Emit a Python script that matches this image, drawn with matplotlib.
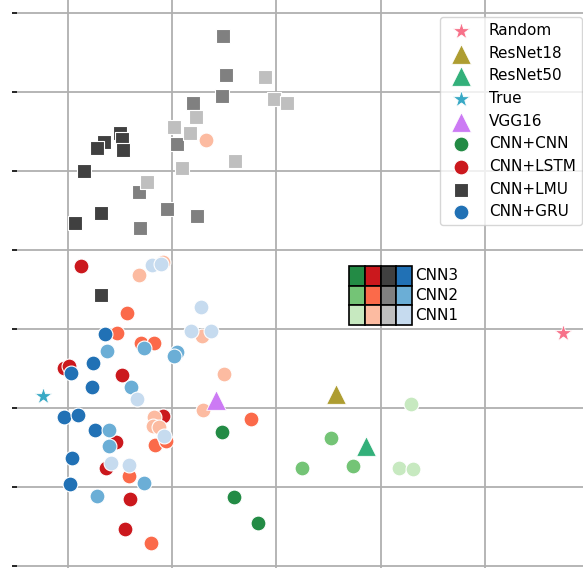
import matplotlib
matplotlib.use("Agg")
import matplotlib.pyplot as plt
import seaborn as sns

# Dados (unidades dos eixos: grade x = 0..4, grade y = 0..7)
lmu3_x = [0.50, 0.52, 0.53, 0.35, 0.28, 0.16, 0.32, 0.07, 0.32]
lmu3_y = [5.48, 5.40, 5.26, 5.37, 5.29, 5.00, 4.47, 4.34, 3.43]
lmu2_x = [1.49, 1.52, 1.48, 1.20, 1.05, 0.68, 0.95, 1.24, 0.69]
lmu2_y = [6.71, 6.21, 5.95, 5.86, 5.34, 4.73, 4.52, 4.43, 4.28]
lmu1_x = [1.89, 1.98, 2.10, 1.23, 1.02, 1.17, 1.60, 1.10, 0.76]
lmu1_y = [6.19, 5.91, 5.86, 5.68, 5.56, 5.48, 5.12, 5.04, 4.86]

lstm3_x = [0.13, -0.04, 0.01, 0.52, 0.91, 0.46, 0.37, 0.60, 0.55]
lstm3_y = [3.80, 2.50, 2.53, 2.41, 1.90, 1.57, 1.24, 0.85, 0.47]
lstm2_x = [0.57, 0.47, 0.70, 0.83, 1.76, 0.84, 0.94, 0.59, 0.80]
lstm2_y = [3.20, 2.95, 2.82, 2.82, 1.86, 1.53, 1.58, 1.14, 0.29]
lstm1_x = [1.33, 0.68, 0.91, 1.29, 1.50, 1.30, 0.83, 0.82, 0.88]
lstm1_y = [5.39, 3.68, 3.85, 2.91, 2.43, 1.97, 1.88, 1.77, 1.76]

gru3_x = [0.36, 0.24, 0.03, 0.23, -0.04, 0.10, 0.26, 0.04, 0.02]
gru3_y = [2.93, 2.57, 2.44, 2.26, 1.88, 1.91, 1.72, 1.36, 1.03]
gru2_x = [0.73, 0.38, 1.05, 1.02, 0.61, 0.40, 0.40, 0.73, 0.28]
gru2_y = [2.76, 2.72, 2.71, 2.66, 2.26, 1.72, 1.52, 1.05, 0.88]
gru1_x = [0.81, 0.89, 1.28, 1.18, 1.37, 0.66, 0.92, 0.42, 0.59]
gru1_y = [3.81, 3.82, 3.28, 2.97, 2.97, 2.11, 1.64, 1.30, 1.27]

cnn3_x = [1.48, 1.59, 1.82]
cnn3_y = [1.69, 0.87, 0.54]
cnn2_x = [2.52, 2.74, 2.25]
cnn2_y = [1.62, 1.26, 1.24]
cnn1_x = [3.29, 3.18, 3.31]
cnn1_y = [2.05, 1.24, 1.22]

baselines = ['Random', 'ResNet18', 'ResNet50', 'True', 'VGG16']
baseline_x = [4.75, 2.57, 2.86, -0.24, 1.42]
baseline_y = [2.95, 2.18, 1.51, 2.15, 2.10]
baseline_markers = ['*', '^', '^', '*', '^']

familias = ['CNN+CNN', 'CNN+LSTM', 'CNN+LMU', 'CNN+GRU']
niveis = ['CNN3', 'CNN2', 'CNN1']

cores = {
    'CNN+CNN': ['#238b45', '#74c476', '#c7e9c0'],
    'CNN+LSTM': ['#cb181d', '#fb6a4a', '#fcbba1'],
    'CNN+LMU': ['#404040', '#808080', '#bfbfbf'],
    'CNN+GRU': ['#2171b5', '#6baed6', '#c6dbef'],
}
marcadores = {'CNN+CNN': 'o', 'CNN+LSTM': 'o', 'CNN+LMU': 's', 'CNN+GRU': 'o'}

pontos = {
    'CNN+CNN': [(cnn3_x, cnn3_y), (cnn2_x, cnn2_y), (cnn1_x, cnn1_y)],
    'CNN+LSTM': [(lstm3_x, lstm3_y), (lstm2_x, lstm2_y), (lstm1_x, lstm1_y)],
    'CNN+LMU': [(lmu3_x, lmu3_y), (lmu2_x, lmu2_y), (lmu1_x, lmu1_y)],
    'CNN+GRU': [(gru3_x, gru3_y), (gru2_x, gru2_y), (gru1_x, gru1_y)],
}

cores_base = sns.color_palette("husl", 5)

fig = plt.figure(figsize=(5.83, 5.68), dpi=100)
ax = fig.add_axes([17 / 583, 0, 566 / 583, 1])

ax.set_xlim(-0.486, 4.941)
ax.set_ylim(-0.029, 7.164)
ax.set_xticks(range(0, 5))
ax.set_yticks(range(0, 8))
ax.set_xticklabels([])
ax.set_yticklabels([])
ax.tick_params(axis='x', length=0)
ax.tick_params(axis='y', length=3.5, width=1.2, color='black')
ax.grid(True, color='#b0b0b0', linewidth=1.3)
ax.set_axisbelow(True)
for sp in ax.spines.values():
    sp.set_visible(False)

for fam in ['CNN+CNN', 'CNN+LSTM', 'CNN+LMU', 'CNN+GRU']:
    for i, (xs, ys) in enumerate(pontos[fam]):
        ax.scatter(xs, ys, s=115, c=cores[fam][i], marker=marcadores[fam],
                   edgecolor='white', linewidth=0.8, zorder=3)

handles = {}
for nome, x, y, m, cor in zip(baselines, baseline_x, baseline_y, baseline_markers, cores_base):
    tam = 170 if m == '*' else 200
    handles[nome] = ax.scatter([x], [y], s=tam, c=[cor], marker=m,
                               edgecolor='white', linewidth=0.6, zorder=4, label=nome)

for fam in familias:
    handles[fam] = ax.scatter([], [], s=115, c=cores[fam][0], marker=marcadores[fam],
                              edgecolor='white', linewidth=0.8, label=fam)

ordem = baselines + familias
ax.legend([handles[k] for k in ordem], ordem, loc='upper right',
          bbox_to_anchor=(0.998, 0.970), borderaxespad=0, fontsize=11,
          framealpha=0.8)

# tabela de cores das variantes
celulas = [[cores[f][i] for f in familias] for i in range(3)]
tab = ax.table(cellColours=celulas, bbox=[0.5866, 0.4278, 0.1113, 0.1039], zorder=5)
for cel in tab.get_celld().values():
    cel.set_edgecolor('black')
    cel.set_linewidth(1.2)
for i, nivel in enumerate(niveis):
    ax.text(0.7035, 0.4278 + 0.1039 * (2.5 - i) / 3, nivel, transform=ax.transAxes,
            fontsize=11, va='center', ha='left', zorder=6)

fig.savefig("out.png", dpi=100)
